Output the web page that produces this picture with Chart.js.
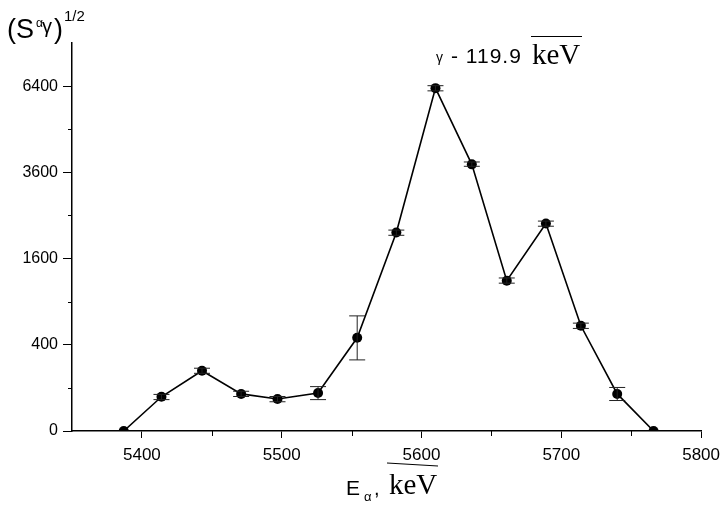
<!DOCTYPE html>
<html>
<head>
<meta charset="utf-8">
<script src="https://cdn.jsdelivr.net/npm/chart.js@4/dist/chart.umd.min.js"></script>
<style>
  html, body { margin: 0; padding: 0; background: #fff; }
  #wrap { width: 727px; height: 508px; }
</style>
</head>
<body>
<div id="wrap"><canvas id="chart" width="727" height="508"></canvas></div>
<script>
// alpha energy (keV) and gamma-coincidence intensity S (plotted on a square-root axis)
const energies = [5387, 5414, 5443, 5471, 5497, 5526, 5554, 5582, 5610, 5636, 5661, 5689, 5714, 5740, 5766];
const intensity = [0, 63, 195, 74, 55, 78, 467, 2120, 6325, 3825, 1216, 2317, 596, 74, 0];
// error bar bounds, same units as intensity
const errLow  = [0, 53, 179, 64, 46, 53, 272, 2061, 6225, 3770, 1176, 2256, 566, 50, 0];
const errHigh = [0, 72, 212, 85, 64, 106, 713, 2172, 6416, 3894, 1260, 2371, 626, 102, 0];

const yTickLabels = [0, 400, 1600, 3600, 6400];
const xTickLabels = [5400, 5500, 5600, 5700, 5800];

const points = energies.map((e, i) => ({ x: e, y: Math.sqrt(intensity[i]) }));

const SANS = '"Liberation Sans", Arial, sans-serif';
const SERIF = '"Liberation Serif", "Times New Roman", serif';

// error bars drawn through the scales
const errorBars = {
  id: 'errorBars',
  afterDatasetsDraw(chart) {
    const ctx = chart.ctx, xs = chart.scales.x, ys = chart.scales.y;
    ctx.save();
    ctx.strokeStyle = '#222';
    ctx.lineWidth = 1;
    energies.forEach((e, i) => {
      if (errHigh[i] === errLow[i]) return;
      const x = xs.getPixelForValue(e);
      const y1 = ys.getPixelForValue(Math.sqrt(errLow[i]));
      const y2 = ys.getPixelForValue(Math.sqrt(errHigh[i]));
      ctx.beginPath();
      ctx.moveTo(x, y1); ctx.lineTo(x, y2);
      ctx.moveTo(x - 8, y1); ctx.lineTo(x + 8, y1);
      ctx.moveTo(x - 8, y2); ctx.lineTo(x + 8, y2);
      ctx.stroke();
    });
    ctx.restore();
  }
};

// minor ticks, titles and annotation text
const decorations = {
  id: 'decorations',
  afterDraw(chart) {
    const ctx = chart.ctx, xs = chart.scales.x, ys = chart.scales.y;
    ctx.save();
    ctx.strokeStyle = '#000';
    ctx.lineWidth = 1;
    ctx.beginPath();
    [10, 30, 50, 70].forEach(v => {
      const y = Math.round(ys.getPixelForValue(v)) + 0.5;
      ctx.moveTo(xs.left - 4, y); ctx.lineTo(xs.left, y);
    });
    [5450, 5550, 5650, 5750].forEach(v => {
      const x = Math.round(xs.getPixelForValue(v)) + 0.5;
      ctx.moveTo(x, ys.bottom); ctx.lineTo(x, ys.bottom + 5);
    });
    ctx.stroke();

    ctx.fillStyle = '#000';
    ctx.textBaseline = 'alphabetic';
    // y title (S^α γ)^1/2
    ctx.font = '27px ' + SANS;
    ctx.fillText('(S', 7, 38);
    ctx.font = '12px ' + SANS;
    ctx.fillText('α', 36, 27);
    ctx.font = '20px ' + SANS;
    ctx.fillText('γ', 42, 33);
    ctx.font = '27px ' + SANS;
    ctx.fillText(')', 54, 38);
    ctx.font = '15px ' + SANS;
    ctx.fillText('1/2', 64, 21);

    // annotation
    ctx.font = '14px ' + SANS;
    ctx.fillText('γ', 436, 62);
    ctx.font = '21px ' + SANS;
    ctx.letterSpacing = '1px';
    ctx.fillText('- 119.9', 451, 63);
    ctx.letterSpacing = '0px';
    ctx.font = '29px ' + SERIF;
    ctx.fillText('keV', 532, 64);
    ctx.beginPath();
    ctx.moveTo(531, 36.5); ctx.lineTo(582, 36.5);
    ctx.stroke();

    // x title E_α, keV
    ctx.font = '21px ' + SANS;
    ctx.fillText('E', 346, 495);
    ctx.font = '13px ' + SANS;
    ctx.fillText('α', 364, 501);
    ctx.font = '20px ' + SANS;
    ctx.fillText(',', 374, 495);
    ctx.font = '29px ' + SERIF;
    ctx.fillText('keV', 389, 494);
    ctx.beginPath();
    ctx.moveTo(387, 463); ctx.lineTo(438, 466);
    ctx.stroke();
    ctx.restore();
  }
};

new Chart(document.getElementById('chart'), {
  type: 'line',
  data: {
    datasets: [{
      data: points,
      borderColor: '#000',
      borderWidth: 1.6,
      backgroundColor: '#000',
      pointRadius: 5,
      pointBackgroundColor: '#000',
      pointBorderWidth: 0,
      tension: 0,
      fill: false
    }]
  },
  options: {
    responsive: false,
    animation: false,
    events: [],
    layout: { padding: { left: 0, top: 43, right: 24, bottom: 0 } },
    plugins: { legend: { display: false }, tooltip: { enabled: false } },
    scales: {
      x: {
        type: 'linear',
        min: 5350,
        max: 5800,
        afterFit(s) { s.height = 77; },
        border: { color: '#000', width: 1.5 },
        grid: {
          drawOnChartArea: false,
          tickLength: 7,
          color: ctx => xTickLabels.includes(ctx.tick && ctx.tick.value) ? '#000' : 'rgba(0,0,0,0)'
        },
        ticks: {
          stepSize: 50,
          autoSkip: false,
          maxRotation: 0,
          color: '#000',
          padding: 7,
          font: { family: SANS, size: 17 },
          callback: v => xTickLabels.includes(v) ? String(v) : ''
        }
      },
      y: {
        type: 'linear',
        min: 0,
        max: 90,
        afterFit(s) { s.width = 72; },
        border: { color: '#000', width: 1.5 },
        grid: {
          drawOnChartArea: false,
          tickLength: 9,
          color: ctx => yTickLabels.includes(Math.pow(ctx.tick ? ctx.tick.value : -1, 2)) ? '#000' : 'rgba(0,0,0,0)'
        },
        ticks: {
          stepSize: 10,
          autoSkip: false,
          color: '#000',
          padding: 5,
          font: { family: SANS, size: 16 },
          callback: v => yTickLabels.includes(v * v) ? String(v * v) : ''
        }
      }
    }
  },
  plugins: [errorBars, decorations]
});
</script>
</body>
</html>
